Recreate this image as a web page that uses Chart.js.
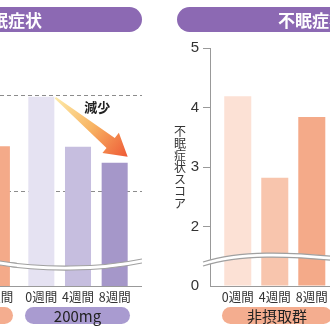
<!DOCTYPE html>
<html lang="ja">
<head>
<meta charset="utf-8">
<title>不眠症状スコア</title>
<script src="https://cdn.jsdelivr.net/npm/chart.js@4.4.1/dist/chart.umd.min.js"></script>
<style>
    html, body { margin: 0; padding: 0; background: #fff; }
    #painel { position: relative; width: 330px; height: 330px; overflow: hidden; font-family: 'Noto Sans CJK JP', sans-serif; }
    #painel canvas { position: absolute; top: 0; }
    .cabeca { position: absolute; top: 7px; height: 25px; box-sizing: border-box; border-radius: 13px; background: #8c69b3;
              color: #fff; font-weight: bold; font-size: 17px; line-height: 25px; white-space: nowrap; }
    .grupo { position: absolute; top: 307px; height: 17px; border-radius: 9px; font-size: 15px; line-height: 17px;
             color: #222; text-align: center; white-space: nowrap; }
</style>
</head>
<body>
<div id="painel">
    <canvas id="grafico-200" width="142" height="330" style="left:0"></canvas>
    <canvas id="grafico-anterior" width="110" height="330" style="left:-93px"></canvas>
    <canvas id="grafico-nao" width="174" height="330" style="left:160px"></canvas>

    <div class="cabeca" style="left:-120px; width:262px; text-align:right; padding-right:100px;">不眠症状</div>
    <div class="cabeca" style="left:177px; width:200px; padding-left:101px;">不眠症状</div>

    <div class="grupo" style="left:-100px; width:113px; background:#f4ad8f;"></div>
    <div class="grupo" style="left:25px; width:105px; background:#a99bd0;">200mg</div>
    <div class="grupo" style="left:222px; width:110px; background:#f4ad8f;">非摂取群</div>
</div>

<script>
const weeks = ['0週間', '4週間', '8週間'];
const prevGroupScores = [null, null, 3.35];   // only the 8週間 bar is visible
const dose200Scores = [4.18, 3.34, 3.07];
const noIntakeScores = [4.19, 2.82, 3.84];
const referenceLines = [4.21, 2.60];
const yTicks = [1, 2, 3, 4, 5];
const yTickLabels = ['0', '2', '3', '4', '5'];

const orangeShades = ['#fce1d5', '#f8c5ad', '#f4aa89'];
const purpleShades = ['#e5e2f2', '#c6bedf', '#a597c9'];
const tickFont = { family: "'Noto Sans CJK JP', sans-serif", size: 12.5 };

// wavy axis break, page coordinates of each panel
const leftBreak = [[0, 261], [40, 268], [100, 268], [142, 259]];
const rightBreak = [[203, 262], [240, 250], [290, 252], [340, 257]];

function breakPlugin(curve) {
    return {
        id: 'quebra',
        afterDraw(chart) {
            const c = chart.ctx;
            const dx = chart.canvas.offsetLeft;
            const p = curve.map(([x, y]) => [x - dx, y]);
            const gap = 4;
            c.save();
            c.beginPath();
            c.moveTo(p[0][0], p[0][1]);
            c.bezierCurveTo(p[1][0], p[1][1], p[2][0], p[2][1], p[3][0], p[3][1]);
            c.lineTo(p[3][0], p[3][1] + gap);
            c.bezierCurveTo(p[2][0], p[2][1] + gap, p[1][0], p[1][1] + gap, p[0][0], p[0][1] + gap);
            c.closePath();
            c.fillStyle = '#fff';
            c.fill();
            c.strokeStyle = '#a0a0a0';
            c.lineWidth = 1.2;
            [0, gap].forEach(off => {
                c.beginPath();
                c.moveTo(p[0][0], p[0][1] + off);
                c.bezierCurveTo(p[1][0], p[1][1] + off, p[2][0], p[2][1] + off, p[3][0], p[3][1] + off);
                c.stroke();
            });
            c.restore();
        }
    };
}

function categoryX() {
    return {
        grid: { display: false, drawTicks: false },
        border: { display: false },
        afterFit: s => { s.height = 22; },
        ticks: { padding: 4, color: '#333', font: tickFont, maxRotation: 0, autoSkip: false }
    };
}

const noLegend = { legend: { display: false }, tooltip: { enabled: false } };

// dashed reference lines, baseline, arrow and 減少
const decorPlugin = {
    id: 'decor',
    beforeDatasetsDraw(chart) {
        const c = chart.ctx;
        const y = chart.scales.y;
        c.save();
        c.strokeStyle = '#8c8c8c';
        c.lineWidth = 1;
        c.setLineDash([4, 3]);
        referenceLines.forEach(v => {
            const py = Math.round(y.getPixelForValue(v)) + 0.5;
            c.beginPath();
            c.moveTo(0, py);
            c.lineTo(chart.width, py);
            c.stroke();
        });
        c.setLineDash([]);
        const by = Math.round(chart.chartArea.bottom) + 0.5;
        c.strokeStyle = '#999';
        c.beginPath();
        c.moveTo(0, by);
        c.lineTo(chart.width, by);
        c.stroke();
        c.restore();
    },
    afterDatasetsDraw(chart) {
        const c = chart.ctx;
        const x = chart.scales.x;
        const y = chart.scales.y;
        const half = chart.getDatasetMeta(0).data[0].width / 2;
        const sx = x.getPixelForValue(0) + half + 1;
        const sy = y.getPixelForValue(dose200Scores[0]) + 1;
        const tx = x.getPixelForValue(2) + half;
        const ty = y.getPixelForValue(dose200Scores[2]) - 6;

        const len = Math.hypot(tx - sx, ty - sy);
        const ux = (tx - sx) / len, uy = (ty - sy) / len;
        const nx = -uy, ny = ux;
        const headLen = 22, headHalf = 13, tail = 1, neck = 6.5;
        const bx = tx - ux * headLen, byy = ty - uy * headLen;

        const grad = c.createLinearGradient(sx, sy, tx, ty);
        grad.addColorStop(0, '#fdeaa8');
        grad.addColorStop(0.5, '#f8b463');
        grad.addColorStop(1, '#ee5a36');

        c.save();
        c.beginPath();
        c.moveTo(sx + nx * tail, sy + ny * tail);
        c.lineTo(bx + nx * neck, byy + ny * neck);
        c.lineTo(bx + nx * headHalf, byy + ny * headHalf);
        c.lineTo(tx, ty);
        c.lineTo(bx - nx * headHalf, byy - ny * headHalf);
        c.lineTo(bx - nx * neck, byy - ny * neck);
        c.lineTo(sx - nx * tail, sy - ny * tail);
        c.closePath();
        c.fillStyle = grad;
        c.fill();

        c.fillStyle = '#222';
        c.font = "bold 13px 'Noto Sans CJK JP', sans-serif";
        c.textAlign = 'center';
        c.textBaseline = 'middle';
        c.fillText('減少', (x.getPixelForValue(1) + x.getPixelForValue(2)) / 2 + 1, y.getPixelForValue(referenceLines[0]) + 12);
        c.restore();
    }
};

// vertical, upright y-axis title
const yTitlePlugin = {
    id: 'tituloY',
    afterDraw(chart) {
        const c = chart.ctx;
        const area = chart.chartArea;
        const chars = Array.from('不眠症状スコア');
        const step = 12;
        const top = (area.top + area.bottom) / 2 - (chars.length - 1) * step / 2;
        c.save();
        c.fillStyle = '#333';
        c.font = "12px 'Noto Sans CJK JP', sans-serif";
        c.textAlign = 'center';
        c.textBaseline = 'middle';
        chars.forEach((ch, i) => c.fillText(ch, area.left - 30, top + i * step));
        c.restore();
    }
};

// 200mg group
new Chart(document.getElementById('grafico-200'), {
    type: 'bar',
    data: {
        labels: weeks,
        datasets: [{
            data: dose200Scores,
            backgroundColor: purpleShades,
            base: 1,
            barPercentage: 0.71,
            categoryPercentage: 1
        }]
    },
    options: {
        responsive: false,
        animation: false,
        layout: { padding: { top: 48, bottom: 22, left: 23, right: 9 } },
        scales: {
            x: categoryX(),
            y: { display: false, min: 1, max: 5 }
        },
        plugins: noLegend
    },
    plugins: [decorPlugin, breakPlugin(leftBreak)]
});

// previous group, cut off at the left edge
new Chart(document.getElementById('grafico-anterior'), {
    type: 'bar',
    data: {
        labels: weeks,
        datasets: [{
            data: prevGroupScores,
            backgroundColor: orangeShades,
            base: 1,
            barPercentage: 0.71,
            categoryPercentage: 1
        }]
    },
    options: {
        responsive: false,
        animation: false,
        layout: { padding: { top: 48, bottom: 22, left: 0, right: 0 } },
        scales: {
            x: categoryX(),
            y: { display: false, min: 1, max: 5 }
        },
        plugins: noLegend
    },
    plugins: [breakPlugin(leftBreak)]
});

// 非摂取群 with the y axis
new Chart(document.getElementById('grafico-nao'), {
    type: 'bar',
    data: {
        datasets: [{
            data: noIntakeScores.map((v, i) => ({ x: i, y: v })),
            backgroundColor: orangeShades,
            base: 1,
            barPercentage: 0.73,
            categoryPercentage: 1
        }]
    },
    options: {
        responsive: false,
        animation: false,
        layout: { padding: { top: 48, bottom: 22, left: 0, right: 0 } },
        scales: {
            x: {
                type: 'linear',
                offset: false,
                min: -0.75,
                max: 2.6,
                afterBuildTicks: s => { s.ticks = weeks.map((w, i) => ({ value: i })); },
                afterFit: s => { s.height = 22; },
                grid: { display: false, drawTicks: false },
                border: { color: '#999' },
                ticks: { padding: 4, color: '#333', font: tickFont, maxRotation: 0, autoSkip: false, callback: v => weeks[v] }
            },
            y: {
                min: 1,
                max: 5,
                afterBuildTicks: s => { s.ticks = yTicks.map(v => ({ value: v })); },
                afterFit: s => { s.width = 50; },
                grid: {
                    drawOnChartArea: false,
                    tickLength: 7,
                    color: ctx => (ctx.tick && ctx.tick.value === 1 ? 'rgba(0,0,0,0)' : '#999')
                },
                border: { color: '#999' },
                ticks: {
                    padding: 4,
                    color: '#333',
                    font: { family: "'Liberation Sans', Arial, sans-serif", size: 15 },
                    callback: v => yTickLabels[yTicks.indexOf(v)]
                }
            }
        },
        plugins: noLegend
    },
    plugins: [yTitlePlugin, breakPlugin(rightBreak)]
});
</script>
</body>
</html>
